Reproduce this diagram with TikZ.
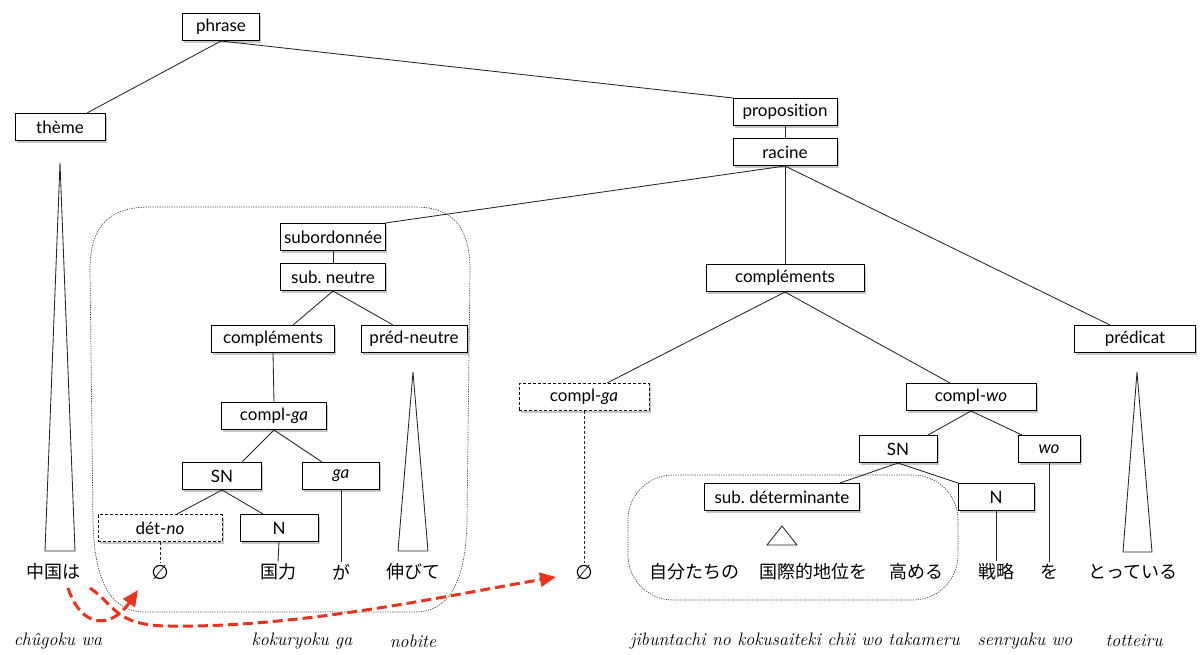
\documentclass[tikz,border=0pt]{standalone}
\usepackage{fontspec}
\newfontfamily\boxfont[Ligatures=NoCommon]{Lato}
\newfontfamily\jpfont{Noto Sans CJK JP}
\newfontfamily\symfont{DejaVu Sans}
\usetikzlibrary{shadows,arrows.meta}
\definecolor{arrowRed}{RGB}{232,52,28}

\begin{document}
\begin{tikzpicture}
[x=1pt,y=-1pt,
  boxDecorate/.style={shape=rectangle,draw,line width=1pt,fill=white,
    minimum height=27pt,inner sep=2pt,font=\boxfont\fontsize{17}{19}\selectfont,
    drop shadow={shadow xshift=1.5pt,shadow yshift=-2.5pt,opacity=0.45}},%
  dashBoxDecorate/.style={boxDecorate,dash pattern=on 3pt off 2pt},%
  lineDecorate/.style={-,line width=0.85pt,black!85},%
  wordDecorate/.style={inner sep=2pt,font=\jpfont\fontsize{18}{20}\selectfont},%
  zeroDecorate/.style={inner sep=2pt,font=\symfont\fontsize{20}{22}\selectfont},%
  romDecorate/.style={inner sep=1pt,font=\fontsize{18}{20}\selectfont\itshape},%
  regionDecorate/.style={line width=0.7pt,dash pattern=on 1.2pt off 1.2pt,black!75},%
  arrowDecorate/.style={draw=arrowRed,line width=3pt,dash pattern=on 10pt off 5pt,
    -{Triangle[length=16pt,width=14pt,fill=arrowRed]}}]
\useasboundingbox (0,0) rectangle (1200,654);
%% dotted regions
\draw[regionDecorate] (150,207) -- (415,207) .. controls (455,207) and (470,230) .. (470,270)
  -- (467,520) .. controls (466,580) and (450,612) .. (415,612) -- (145,612)
  .. controls (110,612) and (94,580) .. (93,520) -- (90,270)
  .. controls (90,230) and (105,207) .. (150,207) -- cycle;
\draw[regionDecorate,rounded corners=45pt] (628,475) rectangle (958,600);
%% boxes
\foreach \nodename/\x/\y/\w/\txt in {
  phrase/221/27/77/phrase, theme/60/127/90/thème,
  prop/785/112/104/proposition, racine/785/152/104/racine,
  %% subordinate clause
  subord/333/237/105/subordonnée, subneutre/333/277/105/sub.\ neutre,
  complA/273/339/123/compléments, predneutre/414/339/106/préd-neutre,
  complgaA/274/416/105/compl-\textit{ga}, snA/222/476/79/SN,
  ga/341/476/77/\textit{ga}, nA/279/528/78/N,
  %% main clause
  complB/785/278/158/compléments, predicat/1135/339/121/prédicat,
  complwo/971/397/130/compl-\textit{wo}, snB/898/449/78/SN,
  wo/1049/449/62/\textit{wo}, subdet/782/497/155/sub.\ déterminante,
  nB/996/497/76/N}
{
  \node (\nodename) at (\x,\y) [boxDecorate,minimum width=\w pt] {\txt};
}
\node (detno) at (160,528) [dashBoxDecorate,minimum width=124pt] {dét-\textit{no}};
\node (complgaB) at (584,397) [dashBoxDecorate,minimum width=130pt] {compl-\textit{ga}};
%% words
\foreach \nodename/\x/\txt in {
  chugoku/53/中国は, kokuryoku/278/国力, gaword/341/が, nobite/413/伸びて,
  jibun/694/自分たちの, kokusai/813/国際的地位を, takameru/916/高める,
  senryaku/996/戦略, woword/1049/を, totteiru/1133/とっている}
{
  \node (\nodename) at (\x,572) [wordDecorate] {\txt};
}
\node (zeroA) at (160,572) [zeroDecorate] {∅};
\node (zeroB) at (584,572) [zeroDecorate] {∅};
%% transliteration
\foreach \nodename/\x/\txt in {
  romA/58/chûgoku wa, romB/302/kokuryoku ga, romC/413/nobite,
  romD/795/jibuntachi no kokusaiteki chii wo takameru,
  romE/1025/senryaku wo, romF/1134/totteiru}
{
  \node (\nodename) at (\x,641) [romDecorate] {\txt};
}
%% edges
\foreach \startnode/\endnode/\s in {
  phrase/theme/27, phrase/prop/-52, prop/racine/0,
  racine/subord/52, racine/complB/0, racine/predicat/-25,
  subord/subneutre/0, subneutre/complA/20, subneutre/predneutre/-21,
  complA/complgaA/0, complgaA/snA/20, complgaA/ga/-19,
  snA/detno/17, snA/nA/-16, complB/complgaB/23, complB/complwo/-21,
  complwo/snB/30, complwo/wo/-27, snB/subdet/58, snB/nB/-38,
  nA/kokuryoku/0, ga/gaword/0, nB/senryaku/0, wo/woword/0}
{
  \draw[lineDecorate] (\startnode.south) -- ([xshift=\s pt]\endnode.north);
}
\draw[lineDecorate,dash pattern=on 3pt off 2pt] (detno.south) -- (zeroA.north);
\draw[lineDecorate,dash pattern=on 3pt off 2pt] (complgaB.south) -- (zeroB.north);
%% triangles
\draw[lineDecorate] (60,163) -- (75,551) -- (45,551) -- cycle;
\draw[lineDecorate] (413,372) -- (428,551) -- (398,551) -- cycle;
\draw[lineDecorate] (1137,372) -- (1152,552) -- (1123,552) -- cycle;
\draw[lineDecorate] (782,526) -- (797,545) -- (767,545) -- cycle;
%% movement arrows
\coordinate (moveA) at (68,588);
\coordinate (moveB) at (90,588);
\draw[arrowDecorate] (moveA) .. controls (82,630) and (112,628) .. (138,590);
\draw[arrowDecorate] (moveB) .. controls (115,605) and (115,626) .. (170,626)
  .. controls (300,628) and (450,595) .. (556,577);
\end{tikzpicture}
\end{document}
